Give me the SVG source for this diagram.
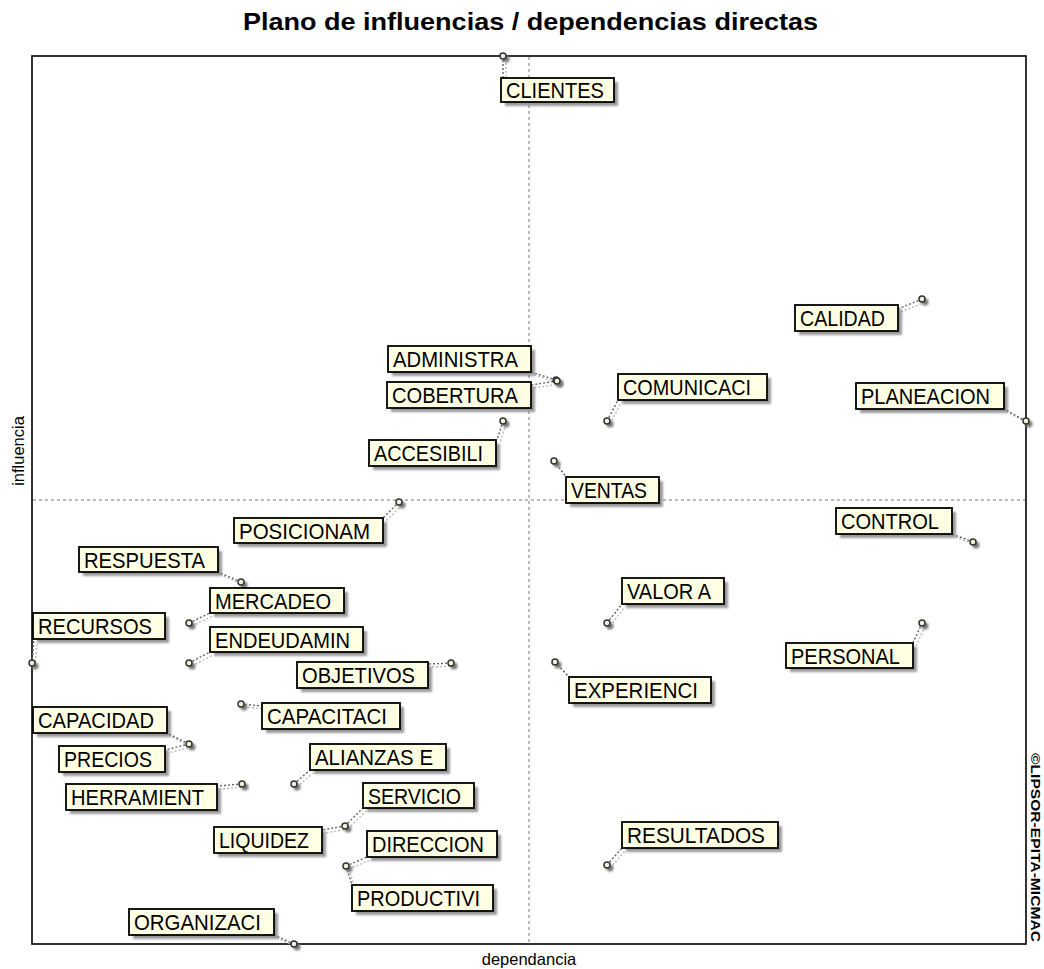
<svg xmlns="http://www.w3.org/2000/svg" width="1044" height="969" viewBox="0 0 1044 969">
<defs>
<filter id="sh" x="-20%" y="-40%" width="140%" height="180%"><feGaussianBlur stdDeviation="1.2"/></filter>
</defs>
<style>
.bg{fill:#fff}
.frame{fill:none;stroke:#000;stroke-width:1.6}
.axis{stroke:#777;stroke-width:1;stroke-dasharray:3,3}
.lead{stroke:#666;stroke-width:1.4;stroke-dasharray:2,2;fill:none}
.leads{stroke:#bbb;stroke-width:1.4;stroke-dasharray:2,2;fill:none}
.bsh{fill:#808080;opacity:.8;filter:url(#sh)}
.box{fill:#ffffe4;stroke:#000;stroke-width:1.8}
.psh{fill:#777;filter:url(#sh)}
.pt{fill:#f4f4d8;stroke:#333;stroke-width:1.5}
.lbl{font-family:"Liberation Sans",Arial,sans-serif;font-size:22px;fill:#000}
.title{font-family:"Liberation Sans",Arial,sans-serif;font-size:24px;font-weight:bold;fill:#000}
.axl{font-family:"Liberation Sans",Arial,sans-serif;font-size:16.5px;fill:#000}
.copy{font-family:"Liberation Sans",Arial,sans-serif;font-size:13px;font-weight:bold;fill:#000}
</style>
<rect class="bg" x="0" y="0" width="1044" height="969"/>
<text class="title" x="243" y="30" textLength="575" lengthAdjust="spacingAndGlyphs">Plano de influencias / dependencias directas</text>
<g id="plot">
<rect class="frame" x="32" y="56" width="994" height="888"/>
<line class="axis" x1="529" y1="57" x2="529" y2="943"/>
<line class="axis" x1="33" y1="500" x2="1025" y2="500"/>
</g>
<text class="axl" x="529" y="965" text-anchor="middle">dependancia</text>
<text class="axl" transform="translate(24,451) rotate(-90)" text-anchor="middle">influencia</text>
<text class="copy" transform="translate(1031,753) rotate(90)" textLength="189" lengthAdjust="spacingAndGlyphs">©LIPSOR-EPITA-MICMAC</text>
<g id="connectors">
<g transform="translate(3,3)">
<path class="leads" d="M503,56L503,78 M922,299L898,309 M556,380L531,372 M557,381L531,385 M607,421L618,400 M1026,421L1004,409 M503,421L497,440 M554,461L566,477 M399,502L383,518 M973,542L952,534 M241,582L218,572 M189,623L210,613 M607,623L622,604 M32,663L34,639 M189,663L210,652 M922,623L913,643 M451,663L428,664 M555,662L569,677 M241,704L262,706 M189,744L167,733 M189,744L165,750 M242,784L217,786 M294,784L310,770 M345,826L363,808 M345,826L322,830 M346,866L367,857 M346,866L352,885 M607,865L622,848 M294,944L274,935"/>
</g>
<path class="lead" d="M503,56L503,78 M922,299L898,309 M556,380L531,372 M557,381L531,385 M607,421L618,400 M1026,421L1004,409 M503,421L497,440 M554,461L566,477 M399,502L383,518 M973,542L952,534 M241,582L218,572 M189,623L210,613 M607,623L622,604 M32,663L34,639 M189,663L210,652 M922,623L913,643 M451,663L428,664 M555,662L569,677 M241,704L262,706 M189,744L167,733 M189,744L165,750 M242,784L217,786 M294,784L310,770 M345,826L363,808 M345,826L322,830 M346,866L367,857 M346,866L352,885 M607,865L622,848 M294,944L274,935"/>
</g>
<g id="n-clientes"><circle class="psh" cx="506" cy="59" r="3.5"/><circle class="pt" cx="503" cy="56" r="3"/><rect class="bsh" x="505" y="82" width="113" height="24"/><rect class="box" x="501" y="78" width="113" height="24"/><text class="lbl" x="506" y="98" textLength="98" lengthAdjust="spacingAndGlyphs">CLIENTES</text></g>
<g id="n-calidad"><circle class="psh" cx="925" cy="302" r="3.5"/><circle class="pt" cx="922" cy="299" r="3"/><rect class="bsh" x="799" y="309" width="103" height="26"/><rect class="box" x="795" y="305" width="103" height="26"/><text class="lbl" x="800" y="326" textLength="85" lengthAdjust="spacingAndGlyphs">CALIDAD</text></g>
<g id="n-administra"><circle class="psh" cx="559" cy="383" r="3.5"/><circle class="pt" cx="556" cy="380" r="3"/><rect class="bsh" x="392" y="350" width="143" height="26"/><rect class="box" x="388" y="346" width="143" height="26"/><text class="lbl" x="393" y="367" textLength="125" lengthAdjust="spacingAndGlyphs">ADMINISTRA</text></g>
<g id="n-cobertura"><circle class="psh" cx="560" cy="384" r="3.5"/><circle class="pt" cx="557" cy="381" r="3"/><rect class="bsh" x="391" y="386" width="144" height="26"/><rect class="box" x="387" y="382" width="144" height="26"/><text class="lbl" x="392" y="403" textLength="126" lengthAdjust="spacingAndGlyphs">COBERTURA</text></g>
<g id="n-comunicaci"><circle class="psh" cx="610" cy="424" r="3.5"/><circle class="pt" cx="607" cy="421" r="3"/><rect class="bsh" x="622" y="378" width="149" height="26"/><rect class="box" x="618" y="374" width="149" height="26"/><text class="lbl" x="623" y="395" textLength="128" lengthAdjust="spacingAndGlyphs">COMUNICACI</text></g>
<g id="n-planeacion"><circle class="psh" cx="1029" cy="424" r="3.5"/><circle class="pt" cx="1026" cy="421" r="3"/><rect class="bsh" x="860" y="387" width="148" height="26"/><rect class="box" x="856" y="383" width="148" height="26"/><text class="lbl" x="861" y="404" textLength="129" lengthAdjust="spacingAndGlyphs">PLANEACION</text></g>
<g id="n-accesibili"><circle class="psh" cx="506" cy="424" r="3.5"/><circle class="pt" cx="503" cy="421" r="3"/><rect class="bsh" x="373" y="444" width="127" height="26"/><rect class="box" x="369" y="440" width="127" height="26"/><text class="lbl" x="374" y="461" textLength="109" lengthAdjust="spacingAndGlyphs">ACCESIBILI</text></g>
<g id="n-ventas"><circle class="psh" cx="557" cy="464" r="3.5"/><circle class="pt" cx="554" cy="461" r="3"/><rect class="bsh" x="570" y="481" width="93" height="26"/><rect class="box" x="566" y="477" width="93" height="26"/><text class="lbl" x="571" y="498" textLength="76" lengthAdjust="spacingAndGlyphs">VENTAS</text></g>
<g id="n-posicionam"><circle class="psh" cx="402" cy="505" r="3.5"/><circle class="pt" cx="399" cy="502" r="3"/><rect class="bsh" x="238" y="522" width="149" height="25"/><rect class="box" x="234" y="518" width="149" height="25"/><text class="lbl" x="239" y="539" textLength="131" lengthAdjust="spacingAndGlyphs">POSICIONAM</text></g>
<g id="n-control"><circle class="psh" cx="976" cy="545" r="3.5"/><circle class="pt" cx="973" cy="542" r="3"/><rect class="bsh" x="840" y="512" width="116" height="26"/><rect class="box" x="836" y="508" width="116" height="26"/><text class="lbl" x="841" y="529" textLength="98" lengthAdjust="spacingAndGlyphs">CONTROL</text></g>
<g id="n-respuesta"><circle class="psh" cx="244" cy="585" r="3.5"/><circle class="pt" cx="241" cy="582" r="3"/><rect class="bsh" x="83" y="551" width="139" height="25"/><rect class="box" x="79" y="547" width="139" height="25"/><text class="lbl" x="84" y="568" textLength="121" lengthAdjust="spacingAndGlyphs">RESPUESTA</text></g>
<g id="n-mercadeo"><circle class="psh" cx="192" cy="626" r="3.5"/><circle class="pt" cx="189" cy="623" r="3"/><rect class="bsh" x="214" y="592" width="134" height="25"/><rect class="box" x="210" y="588" width="134" height="25"/><text class="lbl" x="215" y="609" textLength="116" lengthAdjust="spacingAndGlyphs">MERCADEO</text></g>
<g id="n-valora"><circle class="psh" cx="610" cy="626" r="3.5"/><circle class="pt" cx="607" cy="623" r="3"/><rect class="bsh" x="626" y="582" width="102" height="26"/><rect class="box" x="622" y="578" width="102" height="26"/><text class="lbl" x="627" y="599" textLength="84" lengthAdjust="spacingAndGlyphs">VALOR A</text></g>
<g id="n-recursos"><circle class="psh" cx="35" cy="666" r="3.5"/><circle class="pt" cx="32" cy="663" r="3"/><rect class="bsh" x="37" y="617" width="132" height="26"/><rect class="box" x="33" y="613" width="132" height="26"/><text class="lbl" x="38" y="634" textLength="114" lengthAdjust="spacingAndGlyphs">RECURSOS</text></g>
<g id="n-endeudamin"><circle class="psh" cx="192" cy="666" r="3.5"/><circle class="pt" cx="189" cy="663" r="3"/><rect class="bsh" x="214" y="631" width="153" height="25"/><rect class="box" x="210" y="627" width="153" height="25"/><text class="lbl" x="215" y="648" textLength="135" lengthAdjust="spacingAndGlyphs">ENDEUDAMIN</text></g>
<g id="n-personal"><circle class="psh" cx="925" cy="626" r="3.5"/><circle class="pt" cx="922" cy="623" r="3"/><rect class="bsh" x="790" y="647" width="127" height="25"/><rect class="box" x="786" y="643" width="127" height="25"/><text class="lbl" x="791" y="664" textLength="109" lengthAdjust="spacingAndGlyphs">PERSONAL</text></g>
<g id="n-objetivos"><circle class="psh" cx="454" cy="666" r="3.5"/><circle class="pt" cx="451" cy="663" r="3"/><rect class="bsh" x="301" y="666" width="131" height="26"/><rect class="box" x="297" y="662" width="131" height="26"/><text class="lbl" x="302" y="683" textLength="113" lengthAdjust="spacingAndGlyphs">OBJETIVOS</text></g>
<g id="n-experienci"><circle class="psh" cx="558" cy="665" r="3.5"/><circle class="pt" cx="555" cy="662" r="3"/><rect class="bsh" x="573" y="681" width="142" height="26"/><rect class="box" x="569" y="677" width="142" height="26"/><text class="lbl" x="574" y="698" textLength="124" lengthAdjust="spacingAndGlyphs">EXPERIENCI</text></g>
<g id="n-capacitaci"><circle class="psh" cx="244" cy="707" r="3.5"/><circle class="pt" cx="241" cy="704" r="3"/><rect class="bsh" x="266" y="707" width="138" height="26"/><rect class="box" x="262" y="703" width="138" height="26"/><text class="lbl" x="267" y="724" textLength="120" lengthAdjust="spacingAndGlyphs">CAPACITACI</text></g>
<g id="n-capacidad"><circle class="psh" cx="192" cy="747" r="3.5"/><circle class="pt" cx="189" cy="744" r="3"/><rect class="bsh" x="37" y="711" width="134" height="26"/><rect class="box" x="33" y="707" width="134" height="26"/><text class="lbl" x="38" y="728" textLength="116" lengthAdjust="spacingAndGlyphs">CAPACIDAD</text></g>
<g id="n-precios"><rect class="bsh" x="63" y="750" width="106" height="26"/><rect class="box" x="59" y="746" width="106" height="26"/><text class="lbl" x="64" y="767" textLength="88" lengthAdjust="spacingAndGlyphs">PRECIOS</text></g>
<g id="n-herramient"><circle class="psh" cx="245" cy="787" r="3.5"/><circle class="pt" cx="242" cy="784" r="3"/><rect class="bsh" x="70" y="788" width="151" height="26"/><rect class="box" x="66" y="784" width="151" height="26"/><text class="lbl" x="71" y="805" textLength="133" lengthAdjust="spacingAndGlyphs">HERRAMIENT</text></g>
<g id="n-alianzas"><circle class="psh" cx="297" cy="787" r="3.5"/><circle class="pt" cx="294" cy="784" r="3"/><rect class="bsh" x="314" y="748" width="136" height="26"/><rect class="box" x="310" y="744" width="136" height="26"/><text class="lbl" x="315" y="765" textLength="118" lengthAdjust="spacingAndGlyphs">ALIANZAS E</text></g>
<g id="n-servicio"><circle class="psh" cx="348" cy="829" r="3.5"/><circle class="pt" cx="345" cy="826" r="3"/><rect class="bsh" x="367" y="787" width="111" height="25"/><rect class="box" x="363" y="783" width="111" height="25"/><text class="lbl" x="368" y="804" textLength="93" lengthAdjust="spacingAndGlyphs">SERVICIO</text></g>
<g id="n-liquidez"><rect class="bsh" x="218" y="831" width="108" height="26"/><rect class="box" x="214" y="827" width="108" height="26"/><text class="lbl" x="219" y="848" textLength="90" lengthAdjust="spacingAndGlyphs">LIQUIDEZ</text></g>
<g id="n-direccion"><circle class="psh" cx="349" cy="869" r="3.5"/><circle class="pt" cx="346" cy="866" r="3"/><rect class="bsh" x="371" y="835" width="130" height="26"/><rect class="box" x="367" y="831" width="130" height="26"/><text class="lbl" x="372" y="852" textLength="112" lengthAdjust="spacingAndGlyphs">DIRECCION</text></g>
<g id="n-productivi"><rect class="bsh" x="356" y="889" width="141" height="26"/><rect class="box" x="352" y="885" width="141" height="26"/><text class="lbl" x="357" y="906" textLength="123" lengthAdjust="spacingAndGlyphs">PRODUCTIVI</text></g>
<g id="n-resultados"><circle class="psh" cx="610" cy="868" r="3.5"/><circle class="pt" cx="607" cy="865" r="3"/><rect class="bsh" x="626" y="826" width="156" height="26"/><rect class="box" x="622" y="822" width="156" height="26"/><text class="lbl" x="627" y="843" textLength="138" lengthAdjust="spacingAndGlyphs">RESULTADOS</text></g>
<g id="n-organizaci"><circle class="psh" cx="297" cy="947" r="3.5"/><circle class="pt" cx="294" cy="944" r="3"/><rect class="bsh" x="133" y="913" width="145" height="26"/><rect class="box" x="129" y="909" width="145" height="26"/><text class="lbl" x="134" y="930" textLength="127" lengthAdjust="spacingAndGlyphs">ORGANIZACI</text></g>
</svg>
